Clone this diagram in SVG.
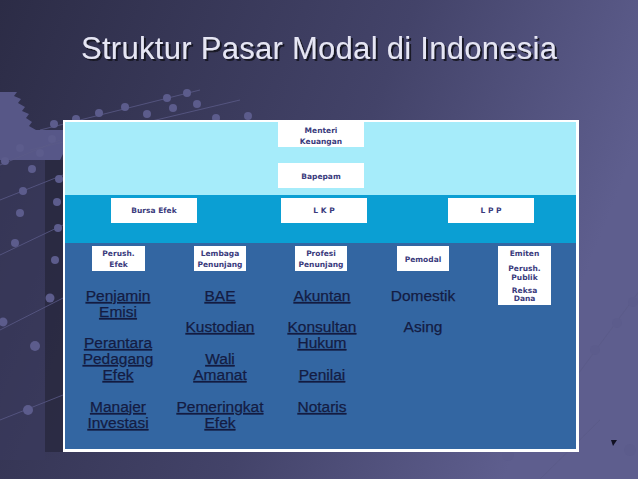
<svg xmlns="http://www.w3.org/2000/svg" width="638" height="479" viewBox="0 0 638 479">
<defs>
<linearGradient id="bg" x1="0" y1="0" x2="1" y2="0.3">
<stop offset="0" stop-color="#2c2c46"/>
<stop offset="0.6" stop-color="#434369"/>
<stop offset="1" stop-color="#5e5e8e"/>
</linearGradient>
<filter id="sh" x="-5%" y="-30%" width="110%" height="160%">
<feDropShadow dx="2" dy="2" stdDeviation="0.6" flood-color="#121224" flood-opacity="0.95"/>
</filter>
</defs>
<style>
.box{fill:#ffffff}
.bt{font-family:"DejaVu Sans",sans-serif;font-weight:bold;font-size:7.5px;fill:#3a3a7c;text-anchor:middle}
.big{font-family:"Liberation Sans",Arial,sans-serif;font-size:15.5px;fill:#141c42;stroke:#141c42;stroke-width:0.25;text-anchor:middle}
.u{text-decoration:underline}
.dot{fill:#5c5c8c}
.ln{stroke:#5a5a88;stroke-width:0.8;fill:none}
</style>
<rect x="0" y="0" width="638" height="479" fill="url(#bg)"/>
<g id="decor">
<polygon points="0,92 17,92 14,96 21,99 18,103 25,107 22,111 29,114 26,118 32,122 29,126 36,130 110,130 70,140 60,160 0,160" fill="#5e5e92" opacity="0.85"/>
<rect x="0" y="160" width="45" height="300" fill="#3b3b5e" opacity="0.6"/>
<rect x="45" y="160" width="18" height="292" fill="#28283e" opacity="0.8"/>
<path class="ln" d="M40,130 L200,90 M30,150 L240,100 M0,165 L60,140 M0,200 L63,175 M0,255 L63,225 M0,330 L63,298 M0,420 L63,395 M640,290 L570,385 M540,479 L600,420"/>
<circle class="dot" cx="54" cy="124" r="4"/>
<circle class="dot" cx="76" cy="119" r="4"/>
<circle class="dot" cx="99" cy="113" r="4"/>
<circle class="dot" cx="125" cy="107" r="4"/>
<circle class="dot" cx="147" cy="114" r="4"/>
<circle class="dot" cx="167" cy="98" r="4"/>
<circle class="dot" cx="173" cy="108" r="4"/>
<circle class="dot" cx="187" cy="93" r="4"/>
<circle class="dot" cx="197" cy="104" r="4"/>
<circle class="dot" cx="216" cy="118" r="4"/>
<circle class="dot" cx="248" cy="116" r="4"/>
<circle class="dot" cx="52" cy="139" r="4"/>
<circle class="dot" cx="20" cy="148" r="4"/>
<circle class="dot" cx="40" cy="153" r="4"/>
<circle class="dot" cx="5" cy="161" r="4"/>
<circle class="dot" cx="32" cy="169" r="4"/>
<circle class="dot" cx="59" cy="179" r="4"/>
<circle class="dot" cx="23" cy="191" r="4"/>
<circle class="dot" cx="57" cy="202" r="4"/>
<circle class="dot" cx="20" cy="213" r="4"/>
<circle class="dot" cx="58" cy="228" r="4"/>
<circle class="dot" cx="15" cy="243" r="4"/>
<circle class="dot" cx="55" cy="260" r="4"/>
<circle class="dot" cx="50" cy="298" r="4.5"/>
<circle class="dot" cx="3" cy="322" r="4.5"/>
<circle class="dot" cx="35" cy="346" r="5"/>
<circle class="dot" cx="28" cy="410" r="5"/>
<circle class="dot" cx="633" cy="302" r="5"/>
<circle class="dot" cx="617" cy="323" r="5" fill="#4a4a78"/>
<circle class="dot" cx="595" cy="350" r="5" fill="#4a4a78"/>
<circle class="dot" cx="630" cy="450" r="6" fill="#4a4a78"/>
<circle class="dot" cx="508" cy="455" r="6" fill="#3e3e66"/>
<polygon points="611,440 617,440 613,446" fill="#111122"/>
</g>
<g id="title">
<text x="81" y="59" font-family="'Liberation Sans',Arial,sans-serif" font-size="31" fill="#e6e6f4" textLength="476" filter="url(#sh)">Struktur Pasar Modal di Indonesia</text>
</g>
<g id="panel">
<rect x="63" y="120" width="516" height="332" fill="#ffffff"/>
<rect x="65" y="122" width="511" height="73" fill="#a6ecfa"/>
<rect x="65" y="195" width="511" height="48" fill="#0b9fd3"/>
<rect x="65" y="243" width="511" height="206" fill="#3366a2"/>
</g>
<g id="menteri"><rect class="box" x="278" y="122" width="86" height="25"/><text class="bt" x="321" y="133">Menteri</text><text class="bt" x="321" y="144">Keuangan</text></g>
<g id="bapepam"><rect class="box" x="278" y="163" width="86" height="25"/><text class="bt" x="321" y="179">Bapepam</text></g>
<g id="bursa"><rect class="box" x="111" y="198" width="86" height="25"/><text class="bt" x="154" y="213">Bursa Efek</text></g>
<g id="lkp"><rect class="box" x="281" y="198" width="86" height="25"/><text class="bt" x="324" y="213">L K P</text></g>
<g id="lpp"><rect class="box" x="448" y="198" width="86" height="25"/><text class="bt" x="491" y="213">L P P</text></g>
<g id="perush"><rect class="box" x="92" y="246" width="53" height="25"/><text class="bt" x="118.5" y="256">Perush.</text><text class="bt" x="118.5" y="267">Efek</text></g>
<g id="lembaga"><rect class="box" x="194" y="246" width="52" height="25"/><text class="bt" x="220" y="256">Lembaga</text><text class="bt" x="220" y="267">Penunjang</text></g>
<g id="profesi"><rect class="box" x="295" y="246" width="52" height="25"/><text class="bt" x="321" y="256">Profesi</text><text class="bt" x="321" y="267">Penunjang</text></g>
<g id="pemodal"><rect class="box" x="397" y="246" width="52" height="25"/><text class="bt" x="423" y="261.5">Pemodal</text></g>
<g id="emiten"><rect class="box" x="498" y="246" width="53" height="59"/><text class="bt" x="524.5" y="255.5">Emiten</text><text class="bt" x="524.5" y="271">Perush.</text><text class="bt" x="524.5" y="280">Publik</text><text class="bt" x="524.5" y="293">Reksa</text><text class="bt" x="524.5" y="301">Dana</text></g>
<g id="col1">
<text class="big u" x="118" y="301">Penjamin</text>
<text class="big u" x="118" y="317">Emisi</text>
<text class="big u" x="118" y="348">Perantara</text>
<text class="big u" x="118" y="364">Pedagang</text>
<text class="big u" x="118" y="380">Efek</text>
<text class="big u" x="118" y="412">Manajer</text>
<text class="big u" x="118" y="428">Investasi</text>
</g>
<g id="col2">
<text class="big u" x="220" y="301">BAE</text>
<text class="big u" x="220" y="332">Kustodian</text>
<text class="big u" x="220" y="364">Wali</text>
<text class="big u" x="220" y="380">Amanat</text>
<text class="big u" x="220" y="412">Pemeringkat</text>
<text class="big u" x="220" y="428">Efek</text>
</g>
<g id="col3">
<text class="big u" x="322" y="301">Akuntan</text>
<text class="big u" x="322" y="332">Konsultan</text>
<text class="big u" x="322" y="348">Hukum</text>
<text class="big u" x="322" y="380">Penilai</text>
<text class="big u" x="322" y="412">Notaris</text>
</g>
<g id="col4">
<text class="big" x="423" y="301">Domestik</text>
<text class="big" x="423" y="332">Asing</text>
</g>
<g id="connectors"/>
</svg>
